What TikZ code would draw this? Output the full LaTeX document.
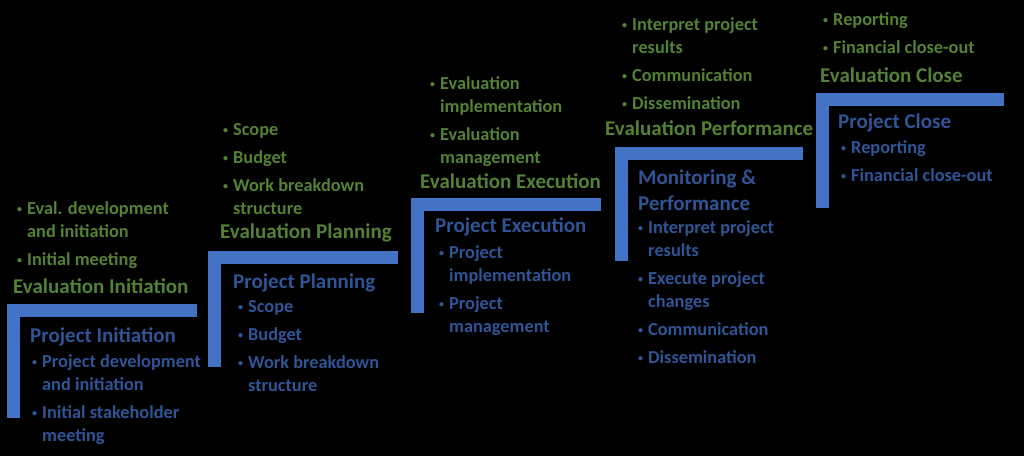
\documentclass[tikz,border=0pt]{standalone}
\usepackage{fontspec}
\setmainfont{Carlito}
\usetikzlibrary{positioning}

\definecolor{barblue}{HTML}{4472C4}
\definecolor{evalgreen}{HTML}{548235}
\definecolor{projblue}{HTML}{2F5597}
\newcommand{\bul}{\makebox[10pt][l]{\raisebox{2pt}{\fontsize{10}{10}\selectfont\textbullet}}}
\newcommand{\ind}{\hspace*{10pt}}

\begin{document}
\begin{tikzpicture}[
    x=1pt, y=-1pt,
    bar/.style={fill=barblue, inner sep=0pt, outer sep=0pt, anchor=north west},
    head/.style={font=\bfseries\fontsize{21}{26}\selectfont, inner sep=0pt, anchor=west, align=left},
    evalhead/.style={head, text=evalgreen},
    projhead/.style={head, text=projblue},
    list/.style={font=\bfseries\fontsize{18.3}{23}\selectfont, inner sep=0pt, anchor=north west, align=left},
    evallist/.style={list, text=evalgreen},
    projlist/.style={list, text=projblue}
]

    % Background
    \fill[black] (0,0) rectangle (1024,456);
    \useasboundingbox (0,0) rectangle (1024,456);

    % Steps: top bar and left bar
    \foreach \n/\x/\y/\w/\h in {1/7/304/190/114, 2/208/251/190/116, 3/411/198/190/115, 4/615/147/188/114, 5/816/93/188/115} {
        \node[bar, minimum width=\w pt, minimum height=13pt] (h\n) at (\x,\y) {};
        \node[bar, minimum width=13pt, minimum height=\h pt] (v\n) at (\x,\y) {};
    }

    % Initiation
    \node[evallist] (el1) at (17,201) {\bul Eval. development\\\ind and initiation\\[5pt]\bul Initial meeting};
    \node[evalhead] (eh1) at (13,286) {Evaluation Initiation};
    \node[projhead] (ph1) at (30,337) {Project Initiation};
    \node[projlist] (pl1) at (32,354) {\bul Project development\\\ind and initiation\\[5pt]\bul Initial stakeholder\\\ind meeting};

    % Planning
    \node[evallist] (el2) at (223,123) {\bul Scope\\[5pt]\bul Budget\\[5pt]\bul Work breakdown\\\ind structure};
    \node[evalhead] (eh2) at (220,233) {Evaluation Planning};
    \node[projhead] (ph2) at (233,283) {Project Planning};
    \node[projlist] (pl2) at (238,300) {\bul Scope\\[5pt]\bul Budget\\[5pt]\bul Work breakdown\\\ind structure};

    % Execution
    \node[evallist] (el3) at (430,76) {\bul Evaluation\\\ind implementation\\[5pt]\bul Evaluation\\\ind management};
    \node[evalhead] (eh3) at (420,181) {Evaluation Execution};
    \node[projhead] (ph3) at (435,227) {Project Execution};
    \node[projlist] (pl3) at (439,245) {\bul Project\\\ind implementation\\[5pt]\bul Project\\\ind management};

    % Performance
    \node[evallist] (el4) at (622,17) {\bul Interpret project\\\ind results\\[5pt]\bul Communication\\[5pt]\bul Dissemination};
    \node[evalhead] (eh4) at (605,128) {Evaluation Performance};
    \node[projhead] (ph4) at (638,190) {Monitoring \&\\Performance};
    \node[projlist] (pl4) at (638,220) {\bul Interpret project\\\ind results\\[5pt]\bul Execute project\\\ind changes\\[5pt]\bul Communication\\[5pt]\bul Dissemination};

    % Close
    \node[evallist] (el5) at (823,12) {\bul Reporting\\[5pt]\bul Financial close-out};
    \node[evalhead] (eh5) at (820,75) {Evaluation Close};
    \node[projhead] (ph5) at (838,123) {Project Close};
    \node[projlist] (pl5) at (841,140) {\bul Reporting\\[5pt]\bul Financial close-out};

\end{tikzpicture}
\end{document}
